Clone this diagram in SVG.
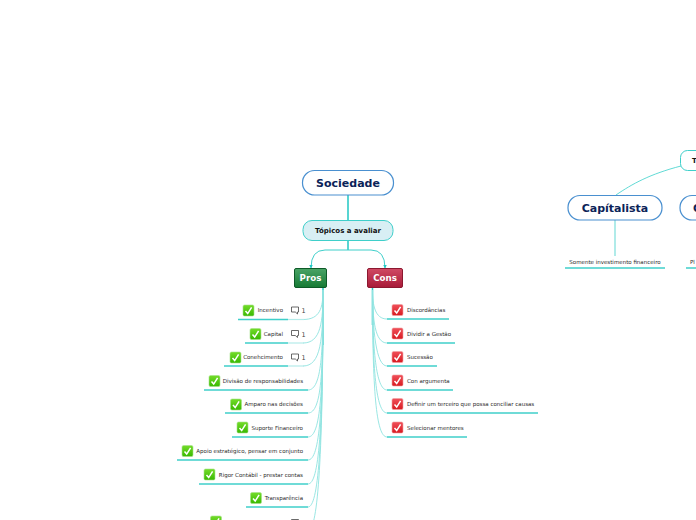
<svg xmlns="http://www.w3.org/2000/svg" width="696" height="520" viewBox="0 0 696 520">
<style>
text{font-family:"DejaVu Sans",Verdana,sans-serif}
.leaf{font-size:5.5px;fill:#2b2b2b}
.main{fill:#fff;stroke:#4a90d0;stroke-width:1.2}
.mt{font-size:11px;font-weight:bold;fill:#0b2358;text-anchor:middle}
.ul{stroke:#3fcfca;stroke-width:1.6;fill:none}
.ul2{stroke:#b5ecea;stroke-width:1.2;fill:none}
.c{stroke:#8fe3e0;stroke-width:.9;fill:none}
.t{stroke:#22c8c4;stroke-width:1.5;fill:none}
.a{stroke:#3fcfca;stroke-width:1;fill:none}
.n{font-size:6.500px;fill:#444}
</style>
<defs>
<linearGradient id="gg" x1="0" y1="0" x2="0" y2="1"><stop offset="0" stop-color="#74dc2a"/><stop offset="1" stop-color="#38b800"/></linearGradient>
<linearGradient id="gr" x1="0" y1="0" x2="0" y2="1"><stop offset="0" stop-color="#f0505a"/><stop offset="1" stop-color="#d81a20"/></linearGradient>
<linearGradient id="pg" x1="0" y1="0" x2="0" y2="1"><stop offset="0" stop-color="#4aa466"/><stop offset="1" stop-color="#167a34"/></linearGradient>
<linearGradient id="cg" x1="0" y1="0" x2="0" y2="1"><stop offset="0" stop-color="#d04a64"/><stop offset="1" stop-color="#a81a38"/></linearGradient>
<marker id="a" markerUnits="userSpaceOnUse" markerWidth="4" markerHeight="4" refX="3.500" refY="2" orient="auto"><path d="M0 0L4 2L0 4z" fill="#22c8c4"/></marker>
<g id="ok"><rect width="11" height="11" rx="1.5" fill="url(#gg)" stroke="#a4e08a" stroke-width=".6"/><path d="M2.5 6L4.7 8.6L8.6 2.4" fill="none" stroke="#fff" stroke-width="1.5"/></g>
<g id="no"><rect width="11" height="11" rx="1.5" fill="url(#gr)" stroke="#f0a0a0" stroke-width=".6"/><path d="M2.5 6L4.7 8.6L8.6 2.4" fill="none" stroke="#fff" stroke-width="1.5"/></g>
<path id="cm" d="M.5 .5H7.5V5.500H6.500V7.500L4.300 5.500H.5z" fill="#fff" stroke="#444" stroke-width=".8"/>
</defs>
<g id="connectors">
<path class="t" d="M348 195V220M348 241V250"/>
<path class="a" d="M348 250H325Q311 250 311 268" marker-end="url(#a)"/>
<path class="a" d="M348 250H371Q385 250 385 268" marker-end="url(#a)"/>
<path class="t" d="M323 287V345M372.500 287V325"/>
<path class="c" stroke-width="1.100" stroke="#4fd6d0" style="stroke:#4fd6d0" d="M681 166C650 174 632 184 616 195"/>
<path class="c" stroke-width="1.400" style="stroke-width:1.400" d="M615 220V256"/>
<path class="c" d="M323 290C323 308 320 319.500 303 319.500M323 290C323 322 321 343 303 343M323 290C323 340 321 366 303 366M323 290C323 350 322 390 308 390M323 290C323 370 322 413 308 413M323 290C323 390 321 437 308 437M323 290C323 410 320 460 308 460M323 290C323 430 319 484 308 484M323 290C323 450 318 507 308 507M323 290C323 470 317 531 308 531"/>
<path class="c" d="M372.500 290C372.500 305 375 319 387 319M372.500 290C372.500 320 375 343 387 343M372.500 290C372.500 330 376 366 387 366M372.500 290C372.500 350 376 390 387 390M372.500 290C372.500 370 376 413 387 413M372.500 290C372.500 390 376 437 387 437"/>
</g>
<g id="sociedade"><rect class="main" x="302.500" y="170.500" width="91" height="24.500" rx="12"/><text class="mt" x="348" y="187">Sociedade</text></g>
<g id="topicos"><rect x="303" y="220.500" width="90" height="20" rx="9" fill="#d8eff4" stroke="#3fcfca" stroke-width="1"/><text x="348" y="233" font-size="7" font-weight="bold" fill="#111" text-anchor="middle">Tópicos a avaliar</text></g>
<g id="pros"><rect x="294.500" y="268.500" width="32" height="19" rx="1.500" fill="url(#pg)" stroke="#0e5a28"/><text x="310.500" y="281" font-size="8.700" font-weight="bold" fill="#fff" text-anchor="middle">Pros</text></g>
<g id="cons"><rect x="367.500" y="268.500" width="35" height="19" rx="1.500" fill="url(#cg)" stroke="#8c1830"/><text x="385" y="281" font-size="8.700" font-weight="bold" fill="#fff" text-anchor="middle">Cons</text></g>
<g id="p1"><use href="#ok" x="243" y="305"/><text class="leaf" x="283" y="312" text-anchor="end">Incentivo</text><use href="#cm" x="291" y="306.500"/><text class="n" x="301.500" y="313">1</text><path class="ul" d="M238 319.500H288"/><path class="ul2" d="M288 319.500H304"/></g>
<g id="p2"><use href="#ok" x="250" y="328.500"/><text class="leaf" x="283" y="335.500" text-anchor="end">Capital</text><use href="#cm" x="291" y="330"/><text class="n" x="301.500" y="337">1</text><path class="ul" d="M245 343H288"/><path class="ul2" d="M288 343H304"/></g>
<g id="p3"><use href="#ok" x="230" y="352"/><text class="leaf" x="283" y="359" text-anchor="end">Conehcimento</text><use href="#cm" x="291" y="353.500"/><text class="n" x="301.500" y="360">1</text><path class="ul" d="M224 366H288"/><path class="ul2" d="M288 366H304"/></g>
<g id="p4"><use href="#ok" x="209" y="375.500"/><text class="leaf" x="303" y="382.500" text-anchor="end">Divisão de responsabilidades</text><path class="ul" d="M204 390H308"/></g>
<g id="p5"><use href="#ok" x="230.500" y="399"/><text class="leaf" x="303" y="406" text-anchor="end">Amparo nas decisões</text><path class="ul" d="M225 413H308"/></g>
<g id="p6"><use href="#ok" x="237" y="422"/><text class="leaf" x="303" y="429.500" text-anchor="end">Suporte Financeiro</text><path class="ul" d="M232 437H308"/></g>
<g id="p7"><use href="#ok" x="182" y="445.500"/><text class="leaf" x="303" y="453" text-anchor="end">Apoio estratégico, pensar em conjunto</text><path class="ul" d="M177 460H308"/></g>
<g id="p8"><use href="#ok" x="204" y="469"/><text class="leaf" x="303" y="476.500" text-anchor="end">Rigor Contábil - prestar contas</text><path class="ul" d="M199 484H308"/></g>
<g id="p9"><use href="#ok" x="250.500" y="492.500"/><text class="leaf" x="303" y="500" text-anchor="end">Transparência</text><path class="ul" d="M246 507H308"/></g>
<g id="p10"><use href="#ok" x="210.500" y="516"/><use href="#cm" x="291" y="519"/></g>
<g id="c1"><use href="#no" x="392" y="304.500"/><text class="leaf" x="407" y="312">Discordâncias</text><path class="ul" d="M387 319H449"/></g>
<g id="c2"><use href="#no" x="392" y="328"/><text class="leaf" x="407" y="335.500">Dividir a Gestão</text><path class="ul" d="M387 343H455"/></g>
<g id="c3"><use href="#no" x="392" y="351.500"/><text class="leaf" x="407" y="359">Sucessão</text><path class="ul" d="M387 366H437"/></g>
<g id="c4"><use href="#no" x="392" y="375"/><text class="leaf" x="407" y="382.500">Con argumenta</text><path class="ul" d="M387 390H453"/></g>
<g id="c5"><use href="#no" x="392" y="398.500"/><text class="leaf" x="407" y="406">Definir um terceiro que possa conciliar causas</text><path class="ul" d="M387 413H538"/></g>
<g id="c6"><use href="#no" x="392" y="422"/><text class="leaf" x="407" y="429.500">Selecionar mentores</text><path class="ul" d="M387 437H467"/></g>
<g id="capitalista"><rect class="main" x="568" y="195.500" width="94" height="24.500" rx="12"/><text class="mt" x="615" y="212">Capítalista</text></g>
<g id="capitalista-leaf"><text class="leaf" x="615" y="264" text-anchor="middle">Somente investimento financeiro</text><path class="ul" d="M565 268H665"/></g>
<g id="right-top"><rect x="680.500" y="150.500" width="30" height="20" rx="7" fill="#fff" stroke="#3fcfca"/><text x="692" y="163" font-size="7" font-weight="bold" fill="#111">T</text></g>
<g id="right-main"><rect class="main" x="680" y="195.500" width="60" height="24.500" rx="12"/><text x="693" y="212" font-size="11" font-weight="bold" fill="#0b2358">C</text></g>
<g id="right-leaf"><text class="leaf" x="690" y="264">Pl</text><path class="ul" d="M686 268H720"/></g>
</svg>
